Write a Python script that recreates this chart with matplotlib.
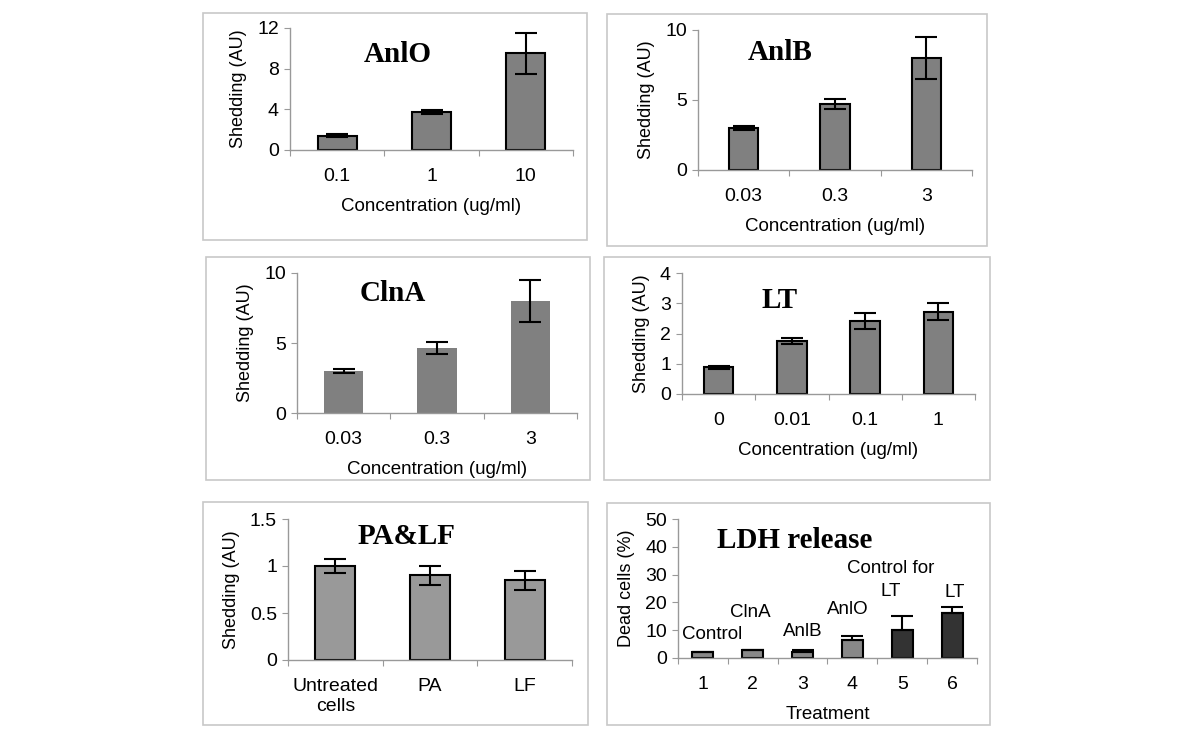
import numpy as np
import matplotlib
matplotlib.use("Agg")
import matplotlib.pyplot as plt
from matplotlib.patches import Rectangle

plt.rcParams['font.family'] = ['Liberation Sans', 'DejaVu Sans']

W, H = 1200, 740

# ---- data ----
anlo_labels = ['0.1', '1', '10']
anlo_vals = [1.4, 3.7, 9.5]
anlo_err = [0.15, 0.2, 2.0]

anlb_labels = ['0.03', '0.3', '3']
anlb_vals = [3.0, 4.7, 8.0]
anlb_err = [0.15, 0.35, 1.5]

clna_labels = ['0.03', '0.3', '3']
clna_vals = [3.0, 4.65, 8.0]
clna_err = [0.15, 0.4, 1.5]

lt_labels = ['0', '0.01', '0.1', '1']
lt_vals = [0.88, 1.76, 2.42, 2.72]
lt_err = [0.04, 0.1, 0.27, 0.28]

palf_labels = ['Untreated\ncells', 'PA', 'LF']
palf_vals = [1.0, 0.9, 0.85]
palf_err = [0.07, 0.1, 0.1]

ldh_labels = ['1', '2', '3', '4', '5', '6']
ldh_names = ['Control', 'ClnA', 'AnlB', 'AnlO', 'Control for\nLT', 'LT']
ldh_vals = [2.0, 2.7, 2.2, 6.3, 10.2, 16.3]
ldh_err = [0.0, 0.0, 0.6, 1.6, 5.0, 2.2]

fig = plt.figure(figsize=(12, 7.4), dpi=100)


def px_rect(l, t, r, b):
    return [l / W, 1 - b / H, (r - l) / W, (b - t) / H]


def frame(l, t, r, b):
    fig.patches.append(Rectangle((l / W, 1 - b / H), (r - l) / W, (b - t) / H,
                                 transform=fig.transFigure, fill=False,
                                 edgecolor='#c8c8c8', linewidth=1.2))


def title(x, y, s):
    fig.text(x / W, 1 - y / H, s, ha='center', va='center',
             fontfamily='Liberation Serif', fontweight='bold', fontsize=21)


def panel(rect, labels, vals, err, ymax, yticks, width, color, edge=True,
          xlabel=None, ylabel='Shedding (AU)', upper_only=False):
    ax = fig.add_axes(px_rect(*rect))
    n = len(vals)
    x = np.arange(n) + 0.5
    ax.bar(x, vals, width=width, color=color,
           edgecolor='black' if edge else 'none', linewidth=1.5, zorder=2)
    if upper_only:
        yerr = [np.zeros(n), err]
    else:
        yerr = err
    ax.errorbar(x, vals, yerr=yerr, fmt='none', ecolor='black',
                elinewidth=1.5, capsize=8, capthick=1.5, zorder=3)
    ax.set_xlim(0, n)
    ax.set_ylim(0, ymax)
    ax.set_yticks(yticks)
    ax.set_yticklabels([f'{t:g}' for t in yticks])
    ax.set_xticks(np.arange(n + 1))
    ax.set_xticklabels([])
    ax.set_xticks(x, minor=True)
    ax.set_xticklabels(labels, minor=True)
    ax.tick_params(axis='x', which='major', length=4, color='#999999')
    ax.tick_params(axis='x', which='minor', length=0, pad=13, labelsize=14)
    ax.tick_params(axis='y', length=4, color='#999999', labelsize=14, pad=4)
    for s in ['top', 'right']:
        ax.spines[s].set_visible(False)
    for s in ['left', 'bottom']:
        ax.spines[s].set_color('#999999')
        ax.spines[s].set_linewidth(1.0)
    ax.patch.set_alpha(0)
    if xlabel:
        ax.set_xlabel(xlabel, fontsize=13.5, labelpad=9)
    ax.set_ylabel(ylabel, fontsize=13, labelpad=7)
    return ax


# AnlO
frame(203, 13, 587, 240)
panel((290, 28, 573, 150), anlo_labels, anlo_vals, anlo_err, 12, [0, 4, 8, 12],
      0.41, '#808080', xlabel='Concentration (ug/ml)')
title(398, 55, 'AnlO')

# AnlB
frame(607, 14, 987, 246)
panel((698, 30, 972, 170), anlb_labels, anlb_vals, anlb_err, 10, [0, 5, 10],
      0.32, '#808080', xlabel='Concentration (ug/ml)')
title(780, 53, 'AnlB')

# ClnA
frame(206, 257, 590, 480)
panel((297, 273, 577, 413), clna_labels, clna_vals, clna_err, 10, [0, 5, 10],
      0.42, '#808080', edge=False, xlabel='Concentration (ug/ml)')
title(393, 293, 'ClnA')

# LT
frame(604, 257, 990, 480)
panel((682, 273, 975, 394), lt_labels, lt_vals, lt_err, 4, [0, 1, 2, 3, 4],
      0.40, '#808080', xlabel='Concentration (ug/ml)')
title(780, 300, 'LT')

# PA&LF
frame(203, 502, 588, 725)
panel((288, 519, 572, 660), palf_labels, palf_vals, palf_err, 1.5,
      [0, 0.5, 1, 1.5], 0.42, '#999999')
title(407, 537, 'PA&LF')

# LDH release
frame(607, 503, 990, 725)
ax6 = panel((678, 519, 977, 658), ldh_labels, ldh_vals, ldh_err, 50,
            [0, 10, 20, 30, 40, 50], 0.42, '#888888',
            xlabel='Treatment', ylabel='Dead cells (%)', upper_only=True)
for p in ax6.patches[4:]:
    p.set_facecolor('#333333')
title(795, 540, 'LDH release')
name_pos = [(0.68, 8.3), (1.45, 16.5), (2.5, 9.7), (3.41, 17.3), (4.26, 28.0), (5.56, 23.7)]
for (xp, yp), nm in zip(name_pos, ldh_names):
    ax6.text(xp, yp, nm, ha='center', va='center', fontsize=13.5,
             linespacing=1.45)

fig.savefig('out.png', dpi=100)
